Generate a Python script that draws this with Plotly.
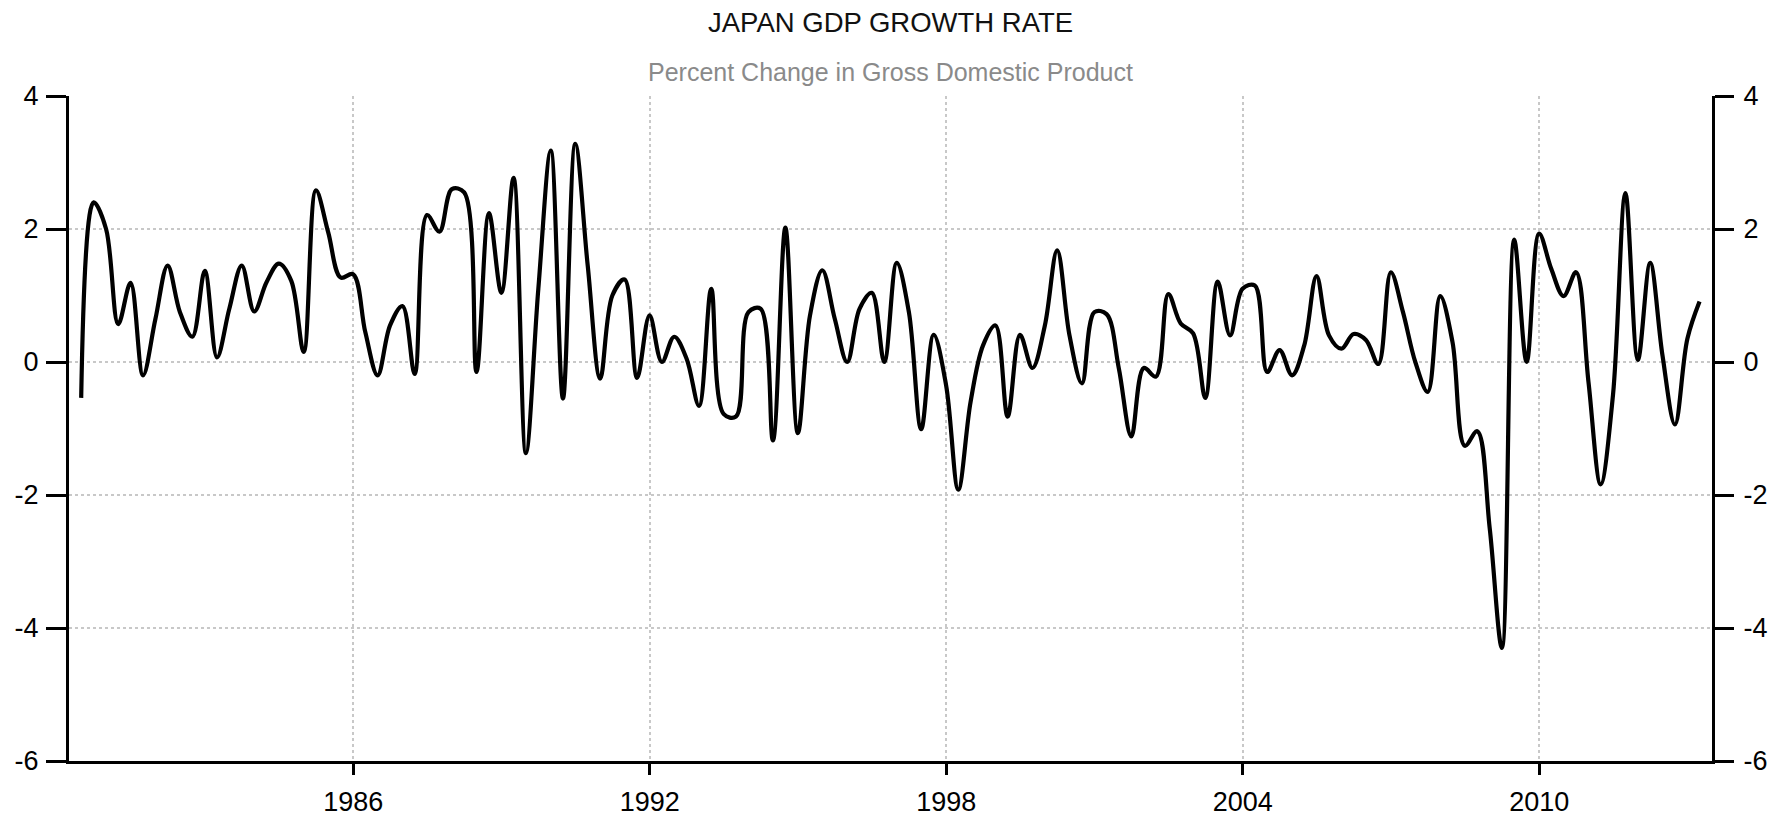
import plotly.graph_objects as go

# Quarterly GDP growth (% change q/q), first point = quarter ending 1980-06-30
start_year = 1980
start_quarter = 2
gdp_growth = [
    -0.54, 2.40, 2.00, 0.57, 1.19, -0.20, 0.65, 1.45, 0.75, 0.38,
    1.37, 0.07, 0.80, 1.45, 0.76, 1.20, 1.48, 1.22, 0.15, 2.58,
    1.95, 1.27, 1.32, 0.45, -0.20, 0.55, 0.84, -0.18, 2.21, 1.96,
    2.60, 2.55, -0.15, 2.24, 1.04, 2.77, -1.37, 1.10, 3.18, -0.55,
    3.28, 1.45, -0.25, 1.00, 1.24, -0.24, 0.70, 0.00, 0.38, 0.05,
    -0.66, 1.10, -0.78, -0.82, 0.75, 0.80, -1.18, 2.02, -1.07, 0.70,
    1.38, 0.65, 0.00, 0.80, 1.04, 0.00, 1.49, 0.75, -1.01, 0.41,
    -0.35, -1.92, -0.60, 0.25, 0.55, -0.82, 0.41, -0.09, 0.55, 1.68,
    0.40, -0.32, 0.75, 0.72, -0.10, -1.12, -0.09, -0.22, 1.02, 0.58,
    0.43, -0.54, 1.21, 0.40, 1.10, 1.15, -0.15, 0.18, -0.20, 0.25,
    1.29, 0.40, 0.20, 0.42, 0.33, -0.03, 1.35, 0.75, 0.00, -0.45,
    0.99, 0.30, -1.26, -1.04, -2.50, -4.30, 1.84, 0.00, 1.93, 1.40,
    0.99, 1.35, -0.30, -1.84, -0.50, 2.54, 0.03, 1.49, 0.10, -0.94,
    0.35, 0.91,
]

quarter_ends = ["03-31", "06-30", "09-30", "12-31"]
dates = []
for i in range(len(gdp_growth)):
    q = start_quarter - 1 + i
    dates.append(f"{start_year + q // 4}-{quarter_ends[q % 4]}")

x_tick_years = [1986, 1992, 1998, 2004, 2010]
x_tick_vals = [f"{y}-01-01" for y in x_tick_years]
x_tick_text = [str(y) for y in x_tick_years]
y_ticks = [-6, -4, -2, 0, 2, 4]
y_tick_text = [str(v) for v in y_ticks]
x_range = ["1980-04-01", "2013-07-01"]
y_range = [-6, 4]

title_text = "JAPAN GDP GROWTH RATE"
subtitle_text = "Percent Change in Gross Domestic Product"

FONT = "Liberation Sans, Arial, sans-serif"

fig = go.Figure()
fig.add_trace(go.Scatter(
    x=dates, y=gdp_growth, mode="lines",
    line=dict(color="#000000", width=4.2, shape="spline"),
    showlegend=False, hoverinfo="x+y",
))
# transparent copy to carry the right-hand axis
fig.add_trace(go.Scatter(
    x=dates, y=gdp_growth, mode="lines", yaxis="y2",
    line=dict(color="rgba(0,0,0,0)", width=1),
    showlegend=False, hoverinfo="skip",
))

grid = "#c8c8c8"
tick_font = dict(size=27, family=FONT, color="#000000")
fig.update_layout(
    autosize=True,
    margin=dict(l=69, r=62, t=96, b=55, autoexpand=False),
    paper_bgcolor="white", plot_bgcolor="white",
    font=dict(family=FONT, color="#000000"),
    xaxis=dict(
        type="date", range=x_range,
        tickvals=x_tick_vals, ticktext=x_tick_text,
        showgrid=True, gridcolor=grid, griddash="dot", gridwidth=2,
        showline=True, linecolor="#000000", linewidth=3,
        ticks="outside", ticklen=11, tickwidth=3, tickcolor="#000000",
        tickfont=tick_font, ticklabelstandoff=4,
        zeroline=False, mirror=False, automargin=False,
    ),
    yaxis=dict(
        range=y_range, tickvals=y_ticks, ticktext=y_tick_text,
        showgrid=True, gridcolor=grid, griddash="dot", gridwidth=2,
        showline=True, linecolor="#000000", linewidth=3,
        ticks="outside", ticklen=20, tickwidth=3, tickcolor="#000000",
        tickfont=tick_font, ticklabelstandoff=2,
        zeroline=False, automargin=False,
    ),
    yaxis2=dict(
        range=y_range, tickvals=y_ticks, ticktext=y_tick_text,
        overlaying="y", side="right",
        showgrid=False, zeroline=False,
        showline=True, linecolor="#000000", linewidth=3,
        ticks="outside", ticklen=19, tickwidth=3, tickcolor="#000000",
        tickfont=tick_font, ticklabelstandoff=4, automargin=False,
    ),
    annotations=[
        dict(text=title_text, xref="paper", yref="paper", x=0.5, y=1,
             yshift=74, xanchor="center", yanchor="middle", showarrow=False,
             font=dict(size=27.5, family=FONT, color="#111111")),
        dict(text=subtitle_text, xref="paper", yref="paper", x=0.5, y=1,
             yshift=24.5, xanchor="center", yanchor="middle", showarrow=False,
             font=dict(size=25, family=FONT, color="#8a8a8a")),
    ],
)

fit_page = """
var els = [document.documentElement, document.body];
els.forEach(function(e){ e.style.margin='0'; e.style.padding='0';
  e.style.width='100%'; e.style.height='100%'; e.style.overflow='hidden'; });
var gd = document.getElementById('{plot_id}');
gd.parentElement.style.width='100%'; gd.parentElement.style.height='100%';
gd.style.width='100%'; gd.style.height='100%';
Plotly.Plots.resize(gd);
"""

fig.write_html(
    "out.html",
    config={"displayModeBar": False, "responsive": True},
    default_width="100%", default_height="100%",
    post_script=fit_page,
)
